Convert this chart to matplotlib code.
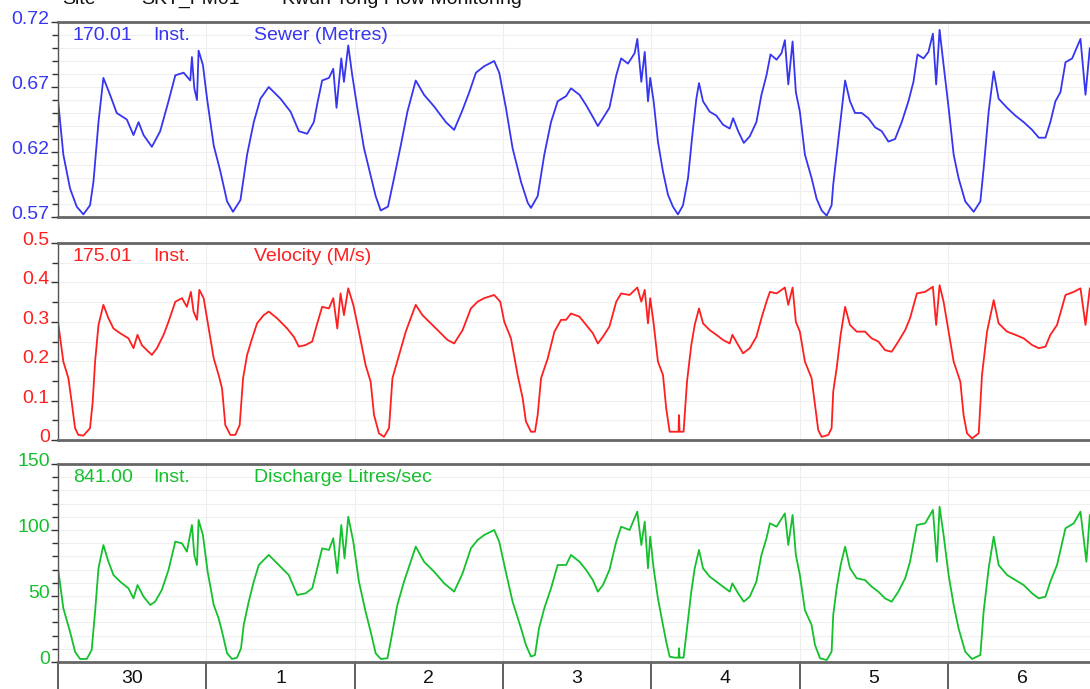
import numpy as np
import matplotlib
matplotlib.use("Agg")
import matplotlib.pyplot as plt
from matplotlib.ticker import MultipleLocator, FixedLocator, NullFormatter, FixedFormatter
from matplotlib.transforms import ScaledTranslation

plt.rcParams['font.family'] = ['Liberation Sans', 'DejaVu Sans']

# ---------------- data (time in days from 00:00 on the 30th) ----------------

day_labels = ['30', '1', '2', '3', '4', '5', '6']

depth_day = [0.000, 0.036, 0.081, 0.126, 0.171, 0.216, 0.239, 0.273, 0.306, 0.351, 0.396, 0.464,
             0.509, 0.543, 0.577, 0.633, 0.689, 0.745, 0.791, 0.847, 0.892, 0.903, 0.919, 0.937,
             0.948, 0.977, 1.005, 1.050, 1.095, 1.140, 1.180, 1.230, 1.275, 1.320, 1.365, 1.421,
             1.500, 1.568, 1.624, 1.680, 1.725, 1.748, 1.781, 1.827, 1.856, 1.878, 1.910, 1.928,
             1.957, 1.984, 2.018, 2.063, 2.108, 2.142, 2.176, 2.225, 2.266, 2.311, 2.356, 2.412,
             2.468, 2.536, 2.615, 2.671, 2.723, 2.773, 2.818, 2.874, 2.941, 2.975, 3.020, 3.065,
             3.122, 3.167, 3.189, 3.234, 3.279, 3.324, 3.369, 3.426, 3.459, 3.516, 3.561, 3.606,
             3.640, 3.674, 3.718, 3.764, 3.797, 3.843, 3.888, 3.906, 3.933, 3.956, 3.978, 3.993,
             4.016, 4.045, 4.079, 4.113, 4.146, 4.180, 4.214, 4.248, 4.277, 4.304, 4.322, 4.349,
             4.394, 4.439, 4.484, 4.529, 4.552, 4.586, 4.624, 4.664, 4.709, 4.743, 4.777, 4.804,
             4.845, 4.878, 4.901, 4.924, 4.953, 4.975, 5.002, 5.036, 5.081, 5.115, 5.149, 5.183,
             5.216, 5.227, 5.250, 5.273, 5.307, 5.340, 5.374, 5.419, 5.464, 5.509, 5.554, 5.599,
             5.644, 5.689, 5.734, 5.768, 5.795, 5.836, 5.869, 5.899, 5.921, 5.944, 5.971, 6.005,
             6.039, 6.072, 6.117, 6.174, 6.219, 6.241, 6.275, 6.309, 6.342, 6.399, 6.455, 6.511,
             6.568, 6.613, 6.658, 6.691, 6.725, 6.759, 6.793, 6.838, 6.894, 6.928, 6.957, 6.980]
depth_m = [0.660, 0.618, 0.592, 0.578, 0.572, 0.579, 0.597, 0.643, 0.677, 0.664, 0.650, 0.645,
           0.633, 0.643, 0.633, 0.624, 0.636, 0.659, 0.679, 0.681, 0.675, 0.693, 0.669, 0.660,
           0.698, 0.687, 0.661, 0.625, 0.605, 0.582, 0.574, 0.583, 0.618, 0.643, 0.661, 0.670,
           0.661, 0.651, 0.636, 0.634, 0.643, 0.657, 0.675, 0.677, 0.684, 0.654, 0.692, 0.674,
           0.702, 0.679, 0.654, 0.623, 0.602, 0.586, 0.575, 0.578, 0.600, 0.625, 0.651, 0.675,
           0.664, 0.655, 0.643, 0.637, 0.651, 0.666, 0.681, 0.686, 0.690, 0.681, 0.654, 0.623,
           0.597, 0.581, 0.577, 0.586, 0.618, 0.643, 0.659, 0.663, 0.669, 0.664, 0.656, 0.647,
           0.640, 0.646, 0.654, 0.679, 0.692, 0.688, 0.696, 0.707, 0.674, 0.697, 0.659, 0.677,
           0.659, 0.628, 0.605, 0.587, 0.578, 0.572, 0.579, 0.600, 0.633, 0.661, 0.673, 0.659,
           0.651, 0.648, 0.641, 0.638, 0.646, 0.636, 0.627, 0.632, 0.643, 0.664, 0.679, 0.695,
           0.691, 0.696, 0.706, 0.672, 0.705, 0.666, 0.651, 0.618, 0.600, 0.584, 0.575, 0.571,
           0.579, 0.595, 0.618, 0.641, 0.675, 0.659, 0.650, 0.650, 0.646, 0.639, 0.636, 0.628,
           0.630, 0.643, 0.659, 0.674, 0.695, 0.692, 0.697, 0.711, 0.672, 0.714, 0.687, 0.654,
           0.618, 0.600, 0.582, 0.574, 0.582, 0.607, 0.651, 0.682, 0.661, 0.654, 0.648, 0.643,
           0.637, 0.631, 0.631, 0.643, 0.659, 0.666, 0.689, 0.692, 0.707, 0.664, 0.700, 0.690]

vel_day = [0.000, 0.036, 0.070, 0.092, 0.115, 0.137, 0.171, 0.216, 0.234, 0.250, 0.273, 0.306,
           0.340, 0.374, 0.419, 0.475, 0.509, 0.536, 0.565, 0.599, 0.633, 0.667, 0.712, 0.745,
           0.791, 0.836, 0.869, 0.896, 0.914, 0.937, 0.953, 0.982, 1.016, 1.050, 1.083, 1.106,
           1.128, 1.162, 1.196, 1.225, 1.248, 1.275, 1.309, 1.342, 1.387, 1.421, 1.477, 1.545,
           1.590, 1.624, 1.669, 1.714, 1.748, 1.781, 1.827, 1.856, 1.883, 1.905, 1.928, 1.957,
           1.991, 2.029, 2.074, 2.108, 2.131, 2.164, 2.198, 2.232, 2.255, 2.300, 2.345, 2.378,
           2.412, 2.457, 2.514, 2.570, 2.626, 2.671, 2.728, 2.784, 2.829, 2.874, 2.941, 2.982,
           3.009, 3.054, 3.099, 3.133, 3.155, 3.189, 3.216, 3.234, 3.257, 3.302, 3.347, 3.392,
           3.426, 3.459, 3.516, 3.561, 3.606, 3.640, 3.674, 3.718, 3.764, 3.797, 3.854, 3.906,
           3.933, 3.956, 3.978, 3.993, 4.016, 4.045, 4.079, 4.101, 4.124, 4.158, 4.184, 4.187,
           4.191, 4.218, 4.241, 4.270, 4.293, 4.322, 4.349, 4.394, 4.439, 4.484, 4.529, 4.547,
           4.586, 4.619, 4.664, 4.709, 4.743, 4.777, 4.800, 4.845, 4.901, 4.924, 4.953, 4.975,
           5.002, 5.036, 5.081, 5.104, 5.126, 5.149, 5.194, 5.216, 5.227, 5.250, 5.277, 5.307,
           5.340, 5.385, 5.441, 5.486, 5.531, 5.576, 5.621, 5.666, 5.712, 5.745, 5.791, 5.847,
           5.899, 5.921, 5.944, 5.971, 6.005, 6.039, 6.084, 6.106, 6.129, 6.163, 6.208, 6.230,
           6.264, 6.309, 6.342, 6.399, 6.455, 6.511, 6.568, 6.613, 6.658, 6.691, 6.736, 6.793,
           6.849, 6.894, 6.928, 6.957, 6.980]
vel_ms = [0.300, 0.199, 0.157, 0.097, 0.030, 0.013, 0.011, 0.030, 0.097, 0.199, 0.292, 0.343,
          0.309, 0.283, 0.271, 0.258, 0.233, 0.267, 0.241, 0.228, 0.216, 0.233, 0.267, 0.300,
          0.351, 0.360, 0.338, 0.376, 0.326, 0.305, 0.381, 0.360, 0.283, 0.207, 0.165, 0.131,
          0.038, 0.013, 0.013, 0.038, 0.157, 0.216, 0.258, 0.296, 0.317, 0.326, 0.309, 0.283,
          0.262, 0.237, 0.241, 0.250, 0.296, 0.338, 0.334, 0.360, 0.283, 0.372, 0.317, 0.385,
          0.343, 0.275, 0.190, 0.148, 0.063, 0.017, 0.008, 0.030, 0.157, 0.216, 0.275, 0.309,
          0.343, 0.317, 0.296, 0.275, 0.254, 0.245, 0.279, 0.334, 0.351, 0.360, 0.368, 0.351,
          0.300, 0.258, 0.165, 0.106, 0.047, 0.021, 0.021, 0.063, 0.157, 0.207, 0.275, 0.305,
          0.305, 0.321, 0.313, 0.292, 0.271, 0.245, 0.262, 0.288, 0.351, 0.372, 0.368, 0.387,
          0.351, 0.381, 0.296, 0.360, 0.296, 0.199, 0.165, 0.080, 0.021, 0.021, 0.021, 0.063,
          0.021, 0.021, 0.148, 0.241, 0.292, 0.334, 0.296, 0.279, 0.267, 0.254, 0.245, 0.267,
          0.241, 0.220, 0.233, 0.262, 0.309, 0.351, 0.376, 0.372, 0.387, 0.343, 0.387, 0.300,
          0.275, 0.199, 0.157, 0.089, 0.025, 0.008, 0.013, 0.030, 0.123, 0.182, 0.267, 0.338,
          0.292, 0.275, 0.275, 0.258, 0.250, 0.228, 0.224, 0.250, 0.279, 0.309, 0.372, 0.376,
          0.389, 0.292, 0.393, 0.351, 0.275, 0.199, 0.148, 0.063, 0.017, 0.004, 0.017, 0.165,
          0.275, 0.355, 0.296, 0.275, 0.267, 0.258, 0.241, 0.233, 0.237, 0.267, 0.292, 0.368,
          0.376, 0.385, 0.292, 0.385, 0.370]

flow_day = [0.000, 0.036, 0.081, 0.115, 0.149, 0.194, 0.227, 0.250, 0.273, 0.306, 0.340, 0.374,
            0.419, 0.475, 0.509, 0.536, 0.577, 0.622, 0.655, 0.700, 0.745, 0.791, 0.836, 0.869,
            0.903, 0.919, 0.937, 0.948, 0.977, 1.009, 1.050, 1.083, 1.106, 1.140, 1.173, 1.207,
            1.234, 1.252, 1.286, 1.320, 1.354, 1.421, 1.489, 1.556, 1.613, 1.669, 1.714, 1.748,
            1.781, 1.827, 1.856, 1.883, 1.910, 1.932, 1.957, 1.991, 2.029, 2.074, 2.108, 2.142,
            2.176, 2.221, 2.243, 2.288, 2.333, 2.378, 2.412, 2.468, 2.536, 2.604, 2.671, 2.728,
            2.784, 2.829, 2.874, 2.941, 2.975, 3.014, 3.065, 3.122, 3.155, 3.189, 3.216, 3.243,
            3.279, 3.324, 3.369, 3.426, 3.459, 3.516, 3.561, 3.606, 3.640, 3.674, 3.718, 3.764,
            3.797, 3.854, 3.906, 3.933, 3.956, 3.978, 3.993, 4.016, 4.045, 4.079, 4.101, 4.124,
            4.158, 4.184, 4.187, 4.191, 4.218, 4.241, 4.270, 4.293, 4.322, 4.349, 4.394, 4.439,
            4.484, 4.529, 4.547, 4.586, 4.624, 4.664, 4.709, 4.743, 4.777, 4.800, 4.845, 4.901,
            4.924, 4.953, 4.975, 5.002, 5.036, 5.081, 5.104, 5.138, 5.183, 5.216, 5.227, 5.250,
            5.277, 5.307, 5.340, 5.385, 5.441, 5.486, 5.531, 5.576, 5.621, 5.666, 5.712, 5.745,
            5.791, 5.847, 5.899, 5.926, 5.944, 5.971, 6.005, 6.039, 6.072, 6.117, 6.163, 6.219,
            6.241, 6.275, 6.309, 6.342, 6.399, 6.455, 6.511, 6.568, 6.613, 6.658, 6.691, 6.736,
            6.793, 6.849, 6.894, 6.934, 6.957, 6.980]
flow_ls = [71.0, 40.7, 23.0, 7.8, 2.3, 2.3, 9.1, 38.1, 71.0, 88.6, 76.0, 65.9,
           60.9, 55.8, 48.2, 58.3, 49.5, 43.2, 45.7, 54.6, 69.7, 91.2, 89.9, 83.6,
           103.8, 81.1, 73.5, 107.6, 96.2, 68.4, 43.2, 33.1, 23.0, 6.6, 2.3, 3.3,
           10.4, 28.0, 45.7, 60.9, 73.5, 81.1, 73.5, 65.9, 50.8, 52.0, 55.8, 71.0,
           86.1, 84.9, 93.7, 67.2, 103.8, 78.5, 110.1, 91.2, 60.9, 38.1, 23.0, 6.6,
           2.3, 2.8, 15.4, 43.2, 60.9, 76.0, 87.4, 76.0, 68.4, 59.6, 53.3, 67.2,
           86.1, 92.4, 96.2, 100.0, 91.2, 71.0, 45.7, 25.5, 12.9, 4.1, 5.3, 25.5,
           40.7, 55.8, 73.5, 73.5, 81.1, 76.0, 69.7, 62.1, 53.3, 58.3, 69.7, 91.2,
           102.5, 100.0, 113.9, 88.6, 106.3, 71.0, 95.0, 71.0, 48.2, 28.0, 15.4, 4.1,
           3.3, 3.3, 10.4, 3.3, 3.3, 25.5, 53.3, 71.0, 84.9, 71.0, 64.7, 60.9,
           57.1, 53.3, 59.6, 52.0, 45.7, 49.5, 60.9, 81.1, 93.7, 105.1, 102.5, 112.6,
           88.6, 111.4, 81.1, 65.9, 39.4, 28.0, 12.9, 2.8, 1.5, 7.8, 35.6, 55.8,
           73.5, 87.4, 71.0, 63.4, 62.1, 57.1, 53.3, 48.2, 45.7, 53.3, 63.4, 76.0,
           103.8, 105.1, 115.2, 76.0, 117.7, 96.2, 65.9, 43.2, 25.5, 7.8, 2.3, 5.3,
           38.1, 71.0, 95.0, 73.5, 65.9, 62.1, 58.3, 52.0, 48.2, 49.5, 60.9, 73.5,
           101.3, 105.1, 113.9, 76.0, 111.4, 105.0]

# ---------------- figure ----------------

W, H = 1090, 689
fig = plt.figure(figsize=(W / 100, H / 100), dpi=100)

def fx(x):
    return x / W

def fy(y):
    return 1 - y / H

blue = '#3535f2'
red = '#ff1f1f'
green = '#14c02c'
xmax = (W - 58) / 148.0

panels = [
    # top, bottom (pixels), series, colour, y range, major, minor, fmt, annotation
    (22, 217, depth_day, depth_m, blue, (0.57, 0.72), 0.05, 0.01, '%.2f', '170.01', 'Sewer (Metres)'),
    (243, 440, vel_day, vel_ms, red, (0.0, 0.5), 0.1, 0.05, '%g', '175.01', 'Velocity (M/s)'),
    (464, 662, flow_day, flow_ls, green, (0.0, 150.0), 50, 10, '%g', '841.00', 'Discharge Litres/sec'),
]

axes = []
for i, (top, bot, xd, yd, col, yr, maj, mnr, fmt, inst, name) in enumerate(panels):
    ax = fig.add_axes([fx(58), fy(bot), fx(W - 58) + 0.002, (bot - top) / H])
    ax.plot(xd, yd, color=col, lw=1.3)
    ax.set_xlim(0, xmax)
    ax.set_ylim(*yr)

    ticks = np.arange(yr[0], yr[1] + maj / 2, maj)
    ax.yaxis.set_major_locator(FixedLocator(ticks))
    ax.yaxis.set_major_formatter(FixedFormatter([fmt % t for t in ticks]))
    ax.yaxis.set_minor_locator(MultipleLocator(mnr))
    ax.tick_params(axis='y', which='major', length=5, width=1, color='#333333',
                   labelcolor=col, labelsize=14, pad=1)
    ax.tick_params(axis='y', which='minor', length=4, width=1, color='#333333')
    # labels sit a little above their tick in the original
    off = ScaledTranslation(0, 4.5 / 100, fig.dpi_scale_trans)
    for lbl in ax.get_yticklabels():
        lbl.set_transform(lbl.get_transform() + off)

    ax.grid(True, which='both', axis='y', color='#efefef', lw=0.8)
    ax.xaxis.set_major_locator(FixedLocator(np.arange(0, 7)))
    ax.grid(True, which='major', axis='x', color='#eeeeee', lw=0.8)
    ax.set_axisbelow(True)

    ax.spines['right'].set_visible(False)
    ax.spines['top'].set_color('#666666')
    ax.spines['top'].set_linewidth(2)
    ax.spines['bottom'].set_color('#666666')
    ax.spines['bottom'].set_linewidth(2)
    ax.spines['left'].set_color('#555555')
    ax.spines['left'].set_linewidth(1)

    if i < 2:
        ax.tick_params(axis='x', which='both', bottom=False, labelbottom=False)
    else:
        ax.xaxis.set_minor_locator(FixedLocator(np.arange(7) + 0.5))
        ax.xaxis.set_minor_formatter(FixedFormatter(day_labels))
        ax.xaxis.set_major_formatter(NullFormatter())
        ax.tick_params(axis='x', which='major', length=28, width=1.2, color='#444444')
        ax.tick_params(axis='x', which='minor', length=0, pad=6, labelsize=14, labelcolor='#111111')

    ty = top + 13
    fig.text(fx(73), fy(ty), inst, color=col, fontsize=14, va='center')
    fig.text(fx(153), fy(ty), 'Inst.', color=col, fontsize=14, va='center')
    fig.text(fx(254), fy(ty), name, color=col, fontsize=14, va='center')
    axes.append(ax)

# site title, cut off at the top edge of the image
fig.text(fx(62), fy(3.5), 'Site', fontsize=14, color='#111111', va='baseline')
fig.text(fx(141), fy(3.5), 'SKT_FM01', fontsize=14, color='#111111', va='baseline')
fig.text(fx(282), fy(3.5), 'Kwun Tong Flow Monitoring', fontsize=14, color='#111111', va='baseline')

fig.savefig('out.png', dpi=100)
